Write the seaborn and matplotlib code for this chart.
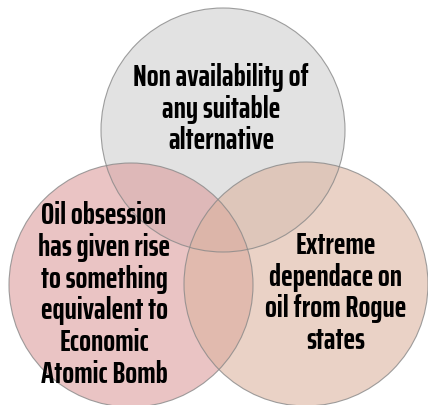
import matplotlib
matplotlib.use("Agg")
import matplotlib.pyplot as plt
import seaborn as sns
from matplotlib.patches import Circle

labels = [
    "Non availability of\nany suitable\nalternative",
    "Oil obsession\nhas given rise\nto something\nequivalent to\nEconomic\nAtomic Bomb",
    "Extreme\ndependace on\noil from Rogue\nstates",
]
fills = ["#cfcfcf", "#dc9d9d", "#dcb4a0"]

sns.set_style("white")
plt.rcParams['font.family'] = ['Saira ExtraCondensed', 'DejaVu Sans']

fig = plt.figure(figsize=(4.28, 4.06), dpi=100)
ax = fig.add_axes([0, 0, 1, 1])
ax.set_xlim(0, 428)
ax.set_ylim(406, 0)
ax.set_aspect("equal")
ax.axis("off")

# circle layout in pixel space
centers = [(223, 131), (131, 286), (306, 285)]
radius = 122
text_pos = [(221, 109), (104, 295), (336, 293)]

for (cx, cy), col in zip(centers, fills):
    ax.add_patch(Circle((cx, cy), radius, facecolor=col, alpha=0.6,
                        edgecolor="none"))
for (cx, cy) in centers:
    ax.add_patch(Circle((cx, cy), radius, facecolor="none",
                        edgecolor="#888888", lw=0.8, alpha=0.8))

for (tx, ty), lab in zip(text_pos, labels):
    ax.text(tx, ty, lab, ha="center", va="center", fontsize=22.5,
            fontweight="bold", linespacing=1.12, color="black")

fig.savefig("out.png", dpi=100)
